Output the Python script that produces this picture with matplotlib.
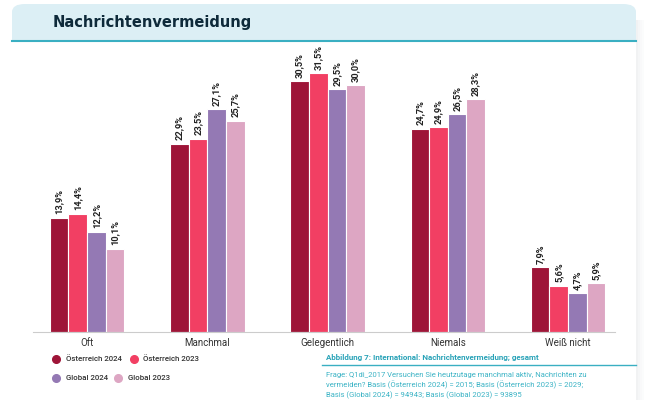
import matplotlib
matplotlib.use('Agg')
from matplotlib import pyplot as plt
from matplotlib.patches import FancyBboxPatch, Rectangle
import numpy as np

categories = ['Oft', 'Manchmal', 'Gelegentlich', 'Niemals', 'Weiß nicht']
series_names = ['Österreich 2024', 'Österreich 2023', 'Global 2024', 'Global 2023']
oe_2024 = [13.9, 22.9, 30.5, 24.7, 7.9]
oe_2023 = [14.4, 23.5, 31.5, 24.9, 5.6]
gl_2024 = [12.2, 27.1, 29.5, 26.5, 4.7]
gl_2023 = [10.1, 25.7, 30.0, 28.3, 5.9]
colors = ['#9E1538', '#F23F63', '#9479B4', '#DDA6C3']

plt.rcParams['font.family'] = ['Roboto', 'DejaVu Sans']

W, H = 650, 400
fig = plt.figure(figsize=(6.5, 4), dpi=100)
fig.patch.set_facecolor('white')

def fx(px):
    return px / W

def fy(py):
    return 1 - py / H

# card shadow on the right
for i, a in enumerate([0.10, 0.07, 0.045, 0.025]):
    fig.patches.append(Rectangle((fx(636 + i * 2), 0), fx(2), fy(20),
                                 transform=fig.transFigure, facecolor='#7A8690', alpha=a,
                                 edgecolor='none', zorder=0))

# header band
fig.patches.append(FancyBboxPatch((fx(12), fy(41)), fx(624), fy(4) - fy(41),
                                  boxstyle='round,pad=0,rounding_size=0.02',
                                  transform=fig.transFigure, facecolor='#DCEFF5', edgecolor='none', zorder=1))
fig.patches.append(Rectangle((fx(12), fy(41)), fx(624), fy(30) - fy(41),
                             transform=fig.transFigure, facecolor='#DCEFF5', edgecolor='none', zorder=1))
fig.lines.append(plt.Line2D([fx(12), fx(636)], [fy(41), fy(41)], transform=fig.transFigure,
                            color='#3AAFC2', lw=1.5, zorder=2))
fig.text(fx(53), fy(23), 'Nachrichtenvermeidung', fontsize=10.5, fontweight='bold',
         family=['DejaVu Sans'], color='#0E2A3A', va='center', ha='left')

# chart
ax = fig.add_axes([fx(33), fy(332), fx(582), fy(50) - fy(332)])
x = np.arange(len(categories))
w = 0.155
all_series = [oe_2024, oe_2023, gl_2024, gl_2023]
for i, (vals, c) in enumerate(zip(all_series, colors)):
    pos = x + (i - 1.5) * w
    ax.bar(pos, vals, width=w, color=c, edgecolor='white', linewidth=0.8, zorder=2)
    for p, v in zip(pos, vals):
        ax.annotate(f'{v:.1f}%'.replace('.', ','), (p, v), xytext=(0, 2.5), textcoords='offset points',
                    rotation=90, ha='center', va='bottom', fontsize=6.7, fontweight='semibold',
                    color='#222222')

ax.set_xlim(-0.45, 4.39)
ax.set_ylim(0, 34.3)
for s in ['top', 'right', 'left']:
    ax.spines[s].set_visible(False)
ax.spines['bottom'].set_color('#CCCCCC')
ax.spines['bottom'].set_linewidth(0.8)
ax.set_yticks([])
ax.set_xticks(x)
ax.set_xticklabels(categories, fontsize=7, color='#333333')
ax.tick_params(axis='x', length=0, pad=4)

# legend
leg_items = [(56, 359, 66), (134, 359, 143), (56, 378, 66), (118, 378, 128)]
for (lx, ly, tx), name, c in zip(leg_items, series_names, colors):
    fig.lines.append(plt.Line2D([fx(lx)], [fy(ly)], marker='o', markersize=5.5, color=c,
                                transform=fig.transFigure, linestyle='none'))
    fig.text(fx(tx), fy(ly), name, fontsize=5.7, fontweight='medium', color='#333333',
             va='center', ha='left')

# caption
fig.text(fx(326), fy(357), 'Abbildung 7: International: Nachrichtenvermeidung; gesamt',
         fontsize=5.8, fontweight='bold', color='#2AA3B8', va='center', ha='left')
fig.lines.append(plt.Line2D([fx(322), fx(636)], [fy(365), fy(365)], transform=fig.transFigure,
                            color='#3AAFC2', lw=1.0))
cap_lines = ['Frage: Q1di_2017 Versuchen Sie heutzutage manchmal aktiv, Nachrichten zu',
             'vermeiden? Basis (Österreich 2024) = 2015; Basis (Österreich 2023) = 2029;',
             'Basis (Global 2024) = 94943; Basis (Global 2023) = 93895']
for k, line in enumerate(cap_lines):
    fig.text(fx(326), fy(375 + k * 10), line, fontsize=5.5, color='#3BB3C5', va='center', ha='left')

fig.savefig('out.png', dpi=100)
